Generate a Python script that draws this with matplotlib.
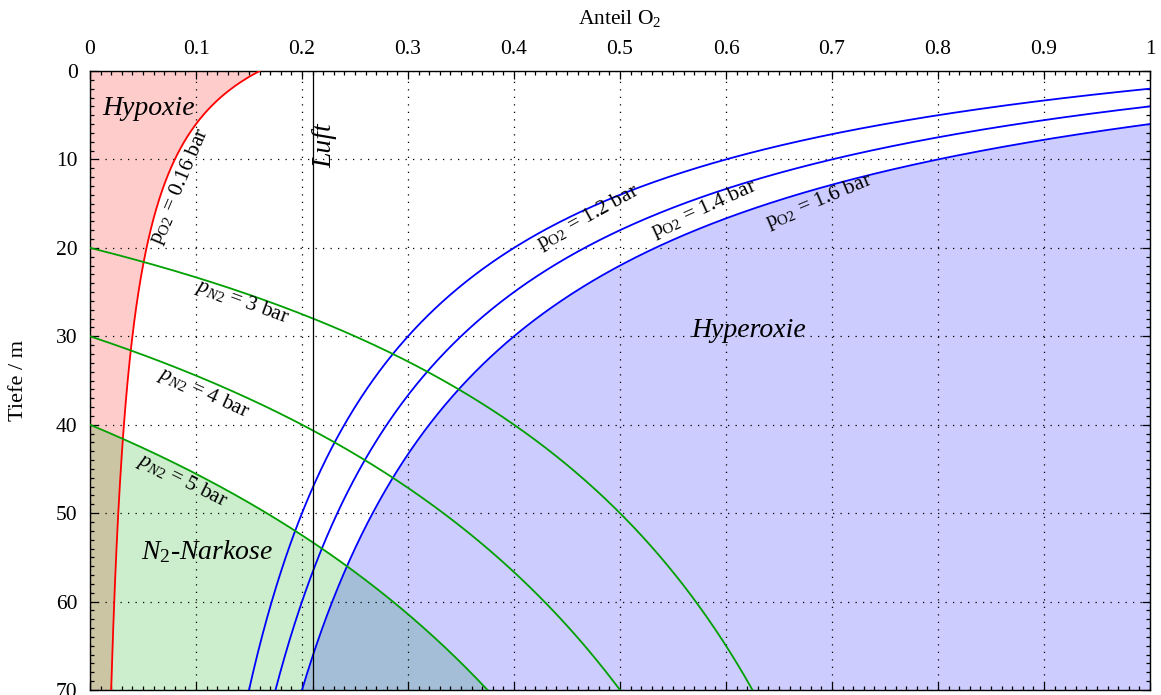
import numpy as np
import matplotlib
matplotlib.use("Agg")
import matplotlib.pyplot as plt
from matplotlib.ticker import MultipleLocator, FuncFormatter

plt.rcParams['font.family'] = ['Liberation Serif', 'DejaVu Serif']
plt.rcParams['mathtext.fontset'] = 'custom'
plt.rcParams['mathtext.rm'] = 'Liberation Serif'
plt.rcParams['mathtext.it'] = 'Liberation Serif:italic'
plt.rcParams['mathtext.bf'] = 'Liberation Serif:bold'

# Partial pressure limits (bar) and the oxygen fraction of air
po2_hypoxia = 0.16
po2_limits = [1.2, 1.4, 1.6]
pn2_limits = [3, 4, 5]
air_o2 = 0.21

max_depth = 70

fig = plt.figure(figsize=(11.61, 6.95), dpi=100)
ax = fig.add_axes([90 / 1161, 1 - 690 / 695, 1060 / 1161, 619 / 695])

depth = np.linspace(0, max_depth, 800)
frac = np.linspace(0.0, 1.0, 2001)


def depth_for_o2(p, f):
    # depth (m) at which oxygen fraction f reaches partial pressure p
    return 10.0 * (p / f - 1.0)


def depth_for_n2(p, f):
    return 10.0 * (p / (1.0 - f) - 1.0)


# Hypoxia zone: left of the 0.16 bar curve
f_hyp = po2_hypoxia / (1 + depth / 10.0)
ax.fill_betweenx(depth, 0, f_hyp, color='#ffcccc', lw=0, zorder=1)

# Nitrogen narcosis zone: below the deepest N2 curve
pn_max = max(pn2_limits)
fn_end = 1 - pn_max / (1 + max_depth / 10.0)
fn = np.linspace(0, fn_end, 1000)
ax.fill_between(fn, depth_for_n2(pn_max, fn), max_depth,
                color=(0, 0.67, 0), alpha=0.2, lw=0, zorder=1)

# Hyperoxia zone: below the highest O2 curve
po_max = max(po2_limits)
f0 = po_max / (1 + max_depth / 10.0)
fo = np.linspace(f0, 1.0, 1000)
ax.fill_between(fo, depth_for_o2(po_max, fo), max_depth,
                color=(0, 0, 1), alpha=0.2, lw=0, zorder=1)

# Curves
ax.plot(f_hyp, depth, color='#ff0000', lw=1.3, zorder=3)
for p in po2_limits:
    f_start = p / (1 + max_depth / 10.0)
    ff = np.linspace(f_start, 1.0, 1000)
    ax.plot(ff, depth_for_o2(p, ff), color='#0000ff', lw=1.3, zorder=3)
for p in pn2_limits:
    f_end = 1 - p / (1 + max_depth / 10.0)
    ff = np.linspace(0, f_end, 1000)
    ax.plot(ff, depth_for_n2(p, ff), color='#00a000', lw=1.3, zorder=3)

ax.axvline(air_o2, color='black', lw=0.9, zorder=3)

# Axes
ax.set_xlim(0, 1)
ax.set_ylim(max_depth, 0)
ax.xaxis.set_major_locator(MultipleLocator(0.1))
ax.xaxis.set_minor_locator(MultipleLocator(0.01))
ax.yaxis.set_major_locator(MultipleLocator(10))
ax.yaxis.set_minor_locator(MultipleLocator(1))
ax.xaxis.set_major_formatter(FuncFormatter(lambda v, _: f"{v:g}"))
ax.tick_params(which='both', direction='in', top=True, bottom=True,
               left=True, right=True, labeltop=True, labelbottom=False,
               labelsize=15.5, width=0.9)
ax.tick_params(which='major', length=6, pad=9)
ax.tick_params(which='minor', length=3)
ax.xaxis.set_label_position('top')
ax.set_xlabel(r'Anteil O$_2$', fontsize=15.5, labelpad=11)
ax.set_ylabel('Tiefe / m', fontsize=16, labelpad=20)
for s in ax.spines.values():
    s.set_linewidth(1.0)
ax.set_axisbelow(False)
ax.grid(True, which='major', color='black', lw=0.9, ls=(0, (1, 5)))

# Zone labels
ax.text(0.055, 4.2, 'Hypoxie', fontsize=20, style='italic', ha='center', va='center', zorder=5)
ax.text(0.222, 8.4, 'Luft', fontsize=20, style='italic', rotation=90, ha='center', va='center', zorder=5)
ax.text(0.621, 29.3, 'Hyperoxie', fontsize=20, style='italic', ha='center', va='center', zorder=5)
ax.text(0.110, 54.3, r'$N_2$-Narkose', fontsize=20, style='italic', ha='center', va='center', zorder=5)

# Curve labels
lab_kw = dict(fontsize=15.5, ha='center', va='center', rotation_mode='anchor', zorder=5)
ax.text(0.085, 13.0, r'p$_{\mathrm{O2}}$ = %g bar' % po2_hypoxia, rotation=67, **lab_kw)
o2_label_pos = [(0.470, 16.6, 29), (0.579, 15.6, 24.4), (0.688, 14.7, 22.7)]
for p, (x, y, r) in zip(po2_limits, o2_label_pos):
    ax.text(x, y, r'p$_{\mathrm{O2}}$ = %g bar' % p, rotation=r, **lab_kw)
n2_label_pos = [(0.143, 26.1, -20), (0.107, 36.4, -24.6), (0.087, 46.3, -26.6)]
for p, (x, y, r) in zip(pn2_limits, n2_label_pos):
    ax.text(x, y, r'$p_{N2}$ = %g bar' % p, rotation=r, **lab_kw)

fig.savefig('out.png', dpi=100)
